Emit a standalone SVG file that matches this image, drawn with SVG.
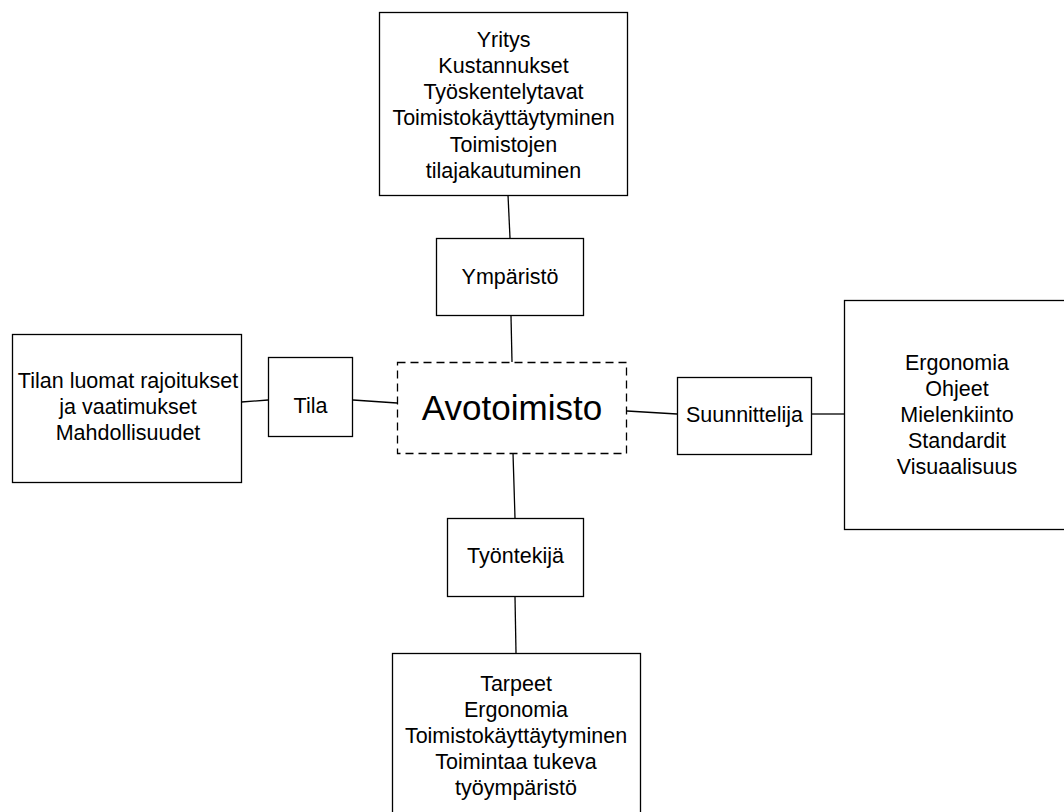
<svg xmlns="http://www.w3.org/2000/svg" width="1064" height="812" viewBox="0 0 1064 812">
<style>
.box{fill:#fff;stroke:#000;stroke-width:1.3}
.dash{fill:#fff;stroke:#000;stroke-width:1.3;stroke-dasharray:8 5}
.t{font-family:"Liberation Sans",Arial,sans-serif;font-size:21.5px;fill:#000;text-anchor:middle}
.big{font-size:35px}
.c line{stroke:#000;stroke-width:1.3}
</style>
<rect width="1064" height="812" fill="#fff"/>
<g class="c" id="connectors">
<line x1="508" y1="195" x2="510" y2="238"/>
<line x1="511" y1="316" x2="512" y2="362"/>
<line x1="241.5" y1="402" x2="268" y2="400"/>
<line x1="353" y1="400" x2="397" y2="403"/>
<line x1="627" y1="411" x2="677" y2="414"/>
<line x1="812" y1="414" x2="844" y2="414"/>
<line x1="513" y1="453" x2="515" y2="518"/>
<line x1="515" y1="597" x2="516" y2="653"/>
</g>
<g id="top">
<rect class="box" x="379.5" y="12.5" width="248" height="183"/>
<text class="t" x="503.5" y="47">Yritys</text>
<text class="t" x="503.5" y="73">Kustannukset</text>
<text class="t" x="503.5" y="99">Työskentelytavat</text>
<text class="t" x="503.5" y="125">Toimistokäyttäytyminen</text>
<text class="t" x="503.5" y="152">Toimistojen</text>
<text class="t" x="503.5" y="178">tilajakautuminen</text>
</g>
<g id="ymparisto">
<rect class="box" x="436.5" y="238.5" width="147" height="77"/>
<text class="t" x="510" y="284">Ympäristö</text>
</g>
<g id="avotoimisto">
<rect class="dash" x="397.5" y="362.5" width="229" height="91"/>
<text class="t big" x="512" y="420">Avotoimisto</text>
</g>
<g id="left">
<rect class="box" x="12.5" y="334.5" width="229" height="148"/>
<text class="t" x="128" y="388">Tilan luomat rajoitukset</text>
<text class="t" x="128" y="414">ja vaatimukset</text>
<text class="t" x="128" y="440">Mahdollisuudet</text>
</g>
<g id="tila">
<rect class="box" x="268.5" y="357.5" width="84" height="79"/>
<text class="t" x="310.5" y="413">Tila</text>
</g>
<g id="suunnittelija">
<rect class="box" x="677.5" y="377.5" width="134" height="77"/>
<text class="t" x="744.5" y="422">Suunnittelija</text>
</g>
<g id="right">
<rect class="box" x="844.5" y="300.5" width="226" height="229"/>
<text class="t" x="957" y="370">Ergonomia</text>
<text class="t" x="957" y="396">Ohjeet</text>
<text class="t" x="957" y="422">Mielenkiinto</text>
<text class="t" x="957" y="448">Standardit</text>
<text class="t" x="957" y="474">Visuaalisuus</text>
</g>
<g id="tyontekija">
<rect class="box" x="447.5" y="518.5" width="136" height="78"/>
<text class="t" x="515.5" y="563">Työntekijä</text>
</g>
<g id="bottom">
<rect class="box" x="392.5" y="653.5" width="248" height="170"/>
<text class="t" x="516" y="691">Tarpeet</text>
<text class="t" x="516" y="717">Ergonomia</text>
<text class="t" x="516" y="743">Toimistokäyttäytyminen</text>
<text class="t" x="516" y="769">Toimintaa tukeva</text>
<text class="t" x="516" y="795">työympäristö</text>
</g>
</svg>
